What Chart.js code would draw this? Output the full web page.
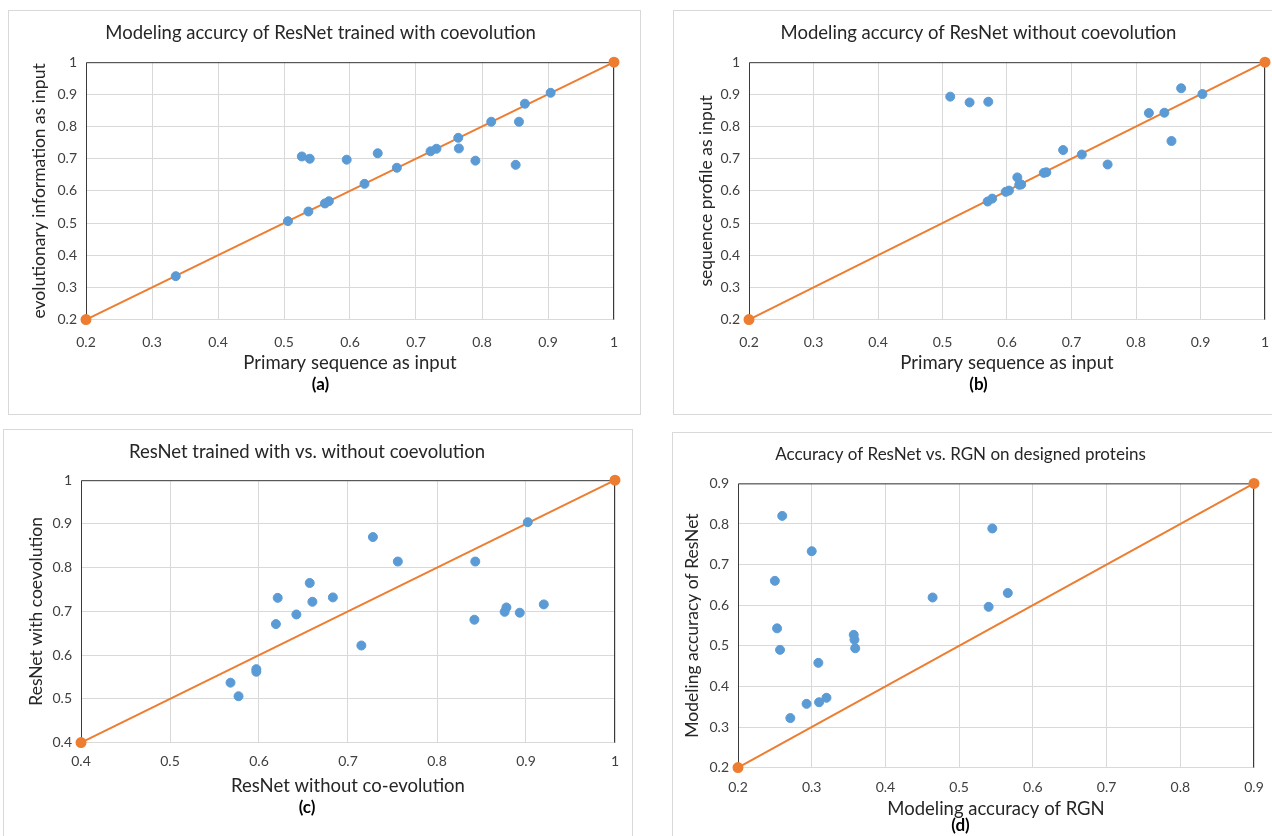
<!DOCTYPE html>
<html>
<head>
<meta charset="utf-8">
<script src="https://cdn.jsdelivr.net/npm/chart.js@4.4.1/dist/chart.umd.min.js"></script>
<style>
  body { margin: 0; width: 1272px; height: 836px; overflow: hidden; background: #fff; position: relative; }
  .panel { position: absolute; border: 1px solid #d9d9d9; background: #fff; box-sizing: content-box; }
  .panel canvas { display: block; }
</style>
</head>
<body>
<div class="panel" style="left:8px;top:10px;width:631px;height:403px"><canvas id="chartA"></canvas></div>
<div class="panel" style="left:673px;top:10px;width:606px;height:403px"><canvas id="chartB"></canvas></div>
<div class="panel" style="left:3px;top:429px;width:628px;height:410px"><canvas id="chartC"></canvas></div>
<div class="panel" style="left:672px;top:432px;width:600px;height:406px"><canvas id="chartD"></canvas></div>

<script>
// (a) primary sequence vs. evolutionary information, ResNet trained with coevolution
let aX = [0.336, 0.506, 0.537, 0.562, 0.568, 0.527, 0.539, 0.595, 0.622, 0.642, 0.671, 0.722, 0.731, 0.764, 0.765, 0.790, 0.814, 0.856, 0.851, 0.865, 0.904];
let aY = [0.335, 0.506, 0.536, 0.561, 0.568, 0.707, 0.700, 0.697, 0.622, 0.717, 0.672, 0.723, 0.731, 0.765, 0.732, 0.694, 0.815, 0.815, 0.681, 0.871, 0.905];
let aRange = [0.2, 1];

// (b) primary sequence vs. sequence profile, ResNet without coevolution
let bX = [0.512, 0.542, 0.571, 0.570, 0.577, 0.598, 0.603, 0.616, 0.619, 0.622, 0.657, 0.661, 0.687, 0.716, 0.756, 0.820, 0.844, 0.855, 0.870, 0.903];
let bY = [0.893, 0.875, 0.877, 0.567, 0.576, 0.597, 0.601, 0.642, 0.619, 0.620, 0.656, 0.658, 0.727, 0.713, 0.682, 0.842, 0.843, 0.755, 0.919, 0.901];
let bRange = [0.2, 1];

// (c) without vs. with coevolution
let cX = [0.568, 0.577, 0.597, 0.597, 0.619, 0.621, 0.642, 0.657, 0.660, 0.683, 0.715, 0.728, 0.756, 0.843, 0.842, 0.876, 0.878, 0.893, 0.902, 0.920];
let cY = [0.537, 0.506, 0.568, 0.562, 0.671, 0.731, 0.693, 0.765, 0.722, 0.732, 0.622, 0.870, 0.814, 0.814, 0.681, 0.699, 0.709, 0.697, 0.904, 0.716];
let cRange = [0.4, 1];

// (d) RGN vs. ResNet on designed proteins
let dX = [0.260, 0.300, 0.250, 0.253, 0.257, 0.271, 0.293, 0.309, 0.310, 0.320, 0.357, 0.358, 0.359, 0.464, 0.540, 0.545, 0.566];
let dY = [0.820, 0.733, 0.660, 0.543, 0.490, 0.322, 0.357, 0.458, 0.361, 0.372, 0.527, 0.515, 0.494, 0.619, 0.596, 0.789, 0.630];
let dRange = [0.2, 0.9];

let FONT = 'Lato, "Open Sans", sans-serif';
let BLUE = '#5B9BD5';
let ORANGE = '#ED7D31';
let GRID = '#d9d9d9';

// dark top/left/right edge of the plot area, like Excel
let frame = {
  id: 'frame',
  beforeDatasetsDraw(chart) {
    let { ctx, chartArea: a } = chart;
    ctx.save();
    ctx.strokeStyle = '#3a3a3a';
    ctx.lineWidth = 1;
    ctx.beginPath();
    ctx.moveTo(a.left + 0.5, a.bottom);
    ctx.lineTo(a.left + 0.5, a.top + 0.5);
    ctx.lineTo(a.right - 0.5, a.top + 0.5);
    ctx.lineTo(a.right - 0.5, a.bottom);
    ctx.stroke();
    ctx.restore();
  },
};

let fmt = (v) => String(+v.toFixed(1));

let makeChart = (id, cfg) => {
  let ctx = document.getElementById(id).getContext('2d');

  let points = cfg.xs.map((x, i) => ({ x: x, y: cfg.ys[i] }));
  let diagonal = cfg.range.map((v) => ({ x: v, y: v }));

  new Chart(ctx, {
    type: 'scatter',
    data: {
      datasets: [
        {
          data: points,
          backgroundColor: BLUE,
          borderColor: BLUE,
          pointRadius: 4.5,
          pointHoverRadius: 4.5,
        },
        {
          type: 'line',
          data: diagonal,
          borderColor: ORANGE,
          backgroundColor: ORANGE,
          borderWidth: 2,
          pointRadius: 4.5,
          tension: 0,
          clip: false,
        },
      ],
    },
    options: {
      responsive: true,
      maintainAspectRatio: false,
      animation: false,
      layout: { padding: { left: cfg.padLeft, right: cfg.padRight, top: 0, bottom: 0 } },
      plugins: {
        legend: { display: false },
        tooltip: { enabled: false },
        title: {
          display: true,
          text: cfg.title,
          color: '#262626',
          font: { family: FONT, size: cfg.titleSize, weight: 'normal' },
          padding: { top: 11, bottom: cfg.titleGap },
        },
        subtitle: {
          display: true,
          position: 'bottom',
          text: cfg.tag,
          color: '#000',
          font: { family: FONT, size: 17, weight: 'bold' },
          padding: { top: cfg.tagTop, bottom: cfg.tagGap },
        },
      },
      scales: {
        x: {
          type: 'linear',
          min: cfg.range[0],
          max: cfg.range[1],
          afterFit: (s) => {
            s.height = cfg.xHeight;
            // let the end labels hang into the layout padding
            s.paddingLeft = 0;
            s.paddingRight = 0;
          },
          ticks: {
            stepSize: 0.1,
            padding: cfg.xTickPad,
            color: '#404040',
            font: { family: FONT, size: 14 },
            callback: fmt,
            maxRotation: 0,
          },
          grid: { color: GRID, drawTicks: false },
          border: { color: GRID },
          title: {
            display: true,
            text: cfg.xLabel,
            color: '#262626',
            font: { family: FONT, size: 18.5 },
            padding: { top: 0, bottom: 0 },
          },
        },
        y: {
          type: 'linear',
          min: cfg.range[0],
          max: cfg.range[1],
          afterFit: (s) => { s.width = cfg.yWidth; },
          ticks: {
            stepSize: 0.1,
            padding: 9,
            color: '#404040',
            font: { family: FONT, size: 14 },
            callback: fmt,
          },
          grid: { color: GRID, drawTicks: false },
          border: { display: false },
          title: {
            display: true,
            text: cfg.yLabel,
            color: '#262626',
            font: { family: FONT, size: 17.5 },
            padding: { top: cfg.yTitlePad, bottom: 0 },
          },
        },
      },
    },
    plugins: [frame],
  });
};

makeChart('chartA', {
  xs: aX, ys: aY, range: aRange,
  title: 'Modeling accurcy of ResNet trained with coevolution',
  xLabel: 'Primary sequence as input',
  yLabel: 'evolutionary information as input',
  tag: '(a)', titleSize: 18.5,
  padLeft: 18, yWidth: 59, yTitlePad: 2, padRight: 26,
  xHeight: 55, xTickPad: 14, titleGap: 18, tagTop: 0, tagGap: 19,
});

makeChart('chartB', {
  xs: bX, ys: bY, range: bRange,
  title: 'Modeling accurcy of ResNet without coevolution',
  xLabel: 'Primary sequence as input',
  yLabel: 'sequence profile as input',
  tag: '(b)', titleSize: 18.5,
  padLeft: 18, yWidth: 57, yTitlePad: 4, padRight: 15,
  xHeight: 55, xTickPad: 14, titleGap: 18, tagTop: 0, tagGap: 19,
});

makeChart('chartC', {
  xs: cX, ys: cY, range: cRange,
  title: 'ResNet trained with vs. without coevolution',
  xLabel: 'ResNet without co-evolution',
  yLabel: 'ResNet with coevolution',
  tag: '(c)', titleSize: 18.5,
  padLeft: -5, yWidth: 82, yTitlePad: 27, padRight: 17,
  xHeight: 55, xTickPad: 10, titleGap: 17, tagTop: 0, tagGap: 22,
});

makeChart('chartD', {
  xs: dX, ys: dY, range: dRange,
  title: 'Accuracy of ResNet vs. RGN on designed proteins',
  xLabel: 'Modeling accuracy of RGN',
  yLabel: 'Modeling accuracy of ResNet',
  tag: '(d)', titleSize: 17,
  padLeft: -6, yWidth: 71, yTitlePad: 14.5, padRight: 19,
  xHeight: 53, xTickPad: 11, titleGap: 19, tagTop: -5, tagGap: 3,
});
</script>
</body>
</html>
